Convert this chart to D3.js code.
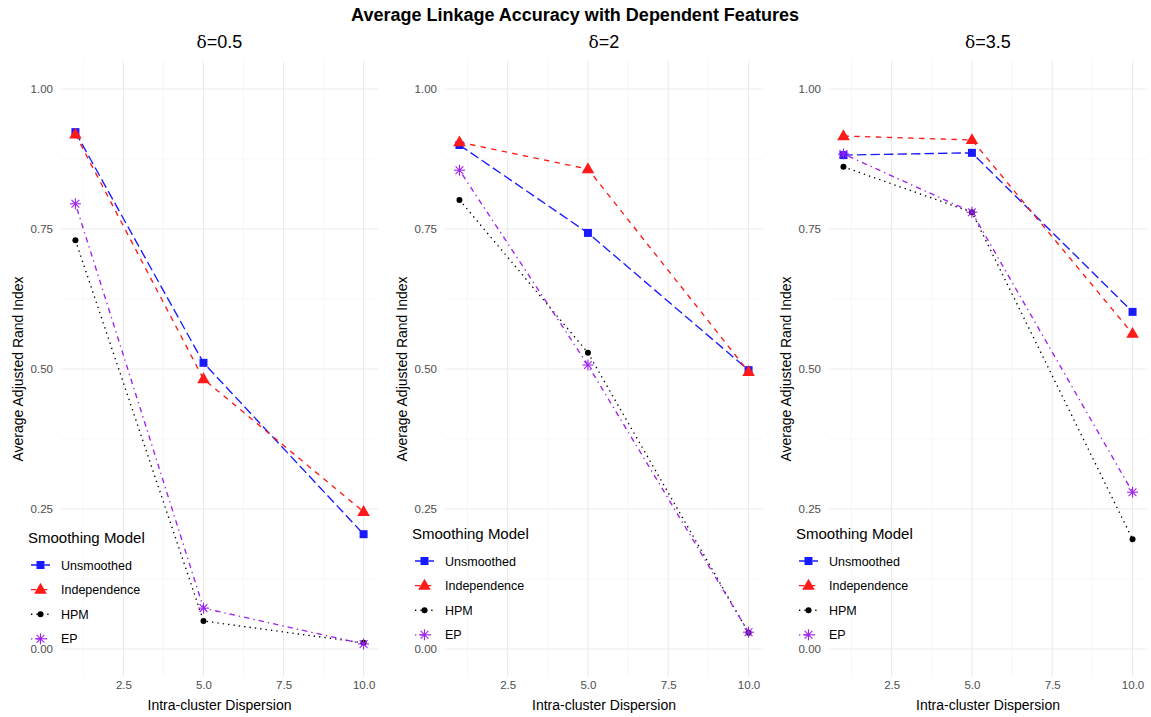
<!DOCTYPE html>
<html>
<head>
<meta charset="utf-8">
<script src="https://cdn.jsdelivr.net/npm/d3@7"></script>
<style>
  body { margin: 0; background: #fff; }
  text { font-family: "Liberation Sans", Arial, Helvetica, sans-serif; }
</style>
</head>
<body>
<div id="chart"></div>
<script>
// data
var dispersion = [1, 5, 10];
var deltas = ["0.5", "2", "3.5"];
var models = ["Unsmoothed", "Independence", "HPM", "EP"];

// one row per panel (delta), values at dispersion 1, 5, 10
var unsmoothed   = [[0.923, 0.511, 0.205], [0.900, 0.743, 0.498], [0.882, 0.886, 0.602]];
var independence = [[0.919, 0.482, 0.245], [0.905, 0.857, 0.495], [0.916, 0.909, 0.563]];
var hpm          = [[0.730, 0.050, 0.011], [0.802, 0.529, 0.029], [0.861, 0.780, 0.196]];
var ep           = [[0.795, 0.073, 0.009], [0.855, 0.507, 0.030], [0.884, 0.780, 0.280]];

var yTicks = [0, 0.25, 0.5, 0.75, 1];
var xTicks = [2.5, 5, 7.5, 10];

function init() {
    var width = 1151, height = 717;

    var colors = { Unsmoothed: "#1a1aff", Independence: "#ff1a1a", HPM: "#000000", EP: "#a020f0" };
    var lw = 1.35;
    var dashes = {
        Unsmoothed: [7 * lw, 3 * lw],
        Independence: [4 * lw, 4 * lw],
        HPM: [1 * lw, 3 * lw],
        EP: [1 * lw, 3 * lw, 4 * lw, 3 * lw]
    };
    var seriesByModel = { Unsmoothed: unsmoothed, Independence: independence, HPM: hpm, EP: ep };

    // panel plotting areas
    var panels = [
        { x0: 61, x1: 378, legendY: 543 },
        { x0: 445, x1: 763, legendY: 539 },
        { x0: 829, x1: 1147, legendY: 539 }
    ];
    var top = 61, bottom = 677;

    var svg = d3.select("#chart").append("svg")
        .attr("width", width)
        .attr("height", height);

    svg.append("text")
        .attr("x", 575).attr("y", 21)
        .attr("text-anchor", "middle")
        .style("font-weight", "bold")
        .style("font-size", "18px")
        .text("Average Linkage Accuracy with Dependent Features");

    var y = d3.scaleLinear().domain([-0.05, 1.05]).range([bottom, top]);

    function drawPoint(g, model, px, py) {
        var c = colors[model];
        if (model === "Unsmoothed") {
            g.append("path").attr("d", d3.symbol(d3.symbolSquare, 64)()).attr("transform", "translate(" + px + "," + py + ")").attr("fill", c);
        } else if (model === "Independence") {
            g.append("path").attr("d", d3.symbol(d3.symbolTriangle, 68)()).attr("transform", "translate(" + px + "," + (py + 0.5) + ")").attr("fill", c);
        } else if (model === "HPM") {
            g.append("circle").attr("cx", px).attr("cy", py).attr("r", 3).attr("fill", c);
        } else {
            var r = 5.5;
            for (var k = 0; k < 4; k++) {
                var a = k * Math.PI / 4;
                g.append("line")
                    .attr("x1", px - r * Math.cos(a)).attr("y1", py - r * Math.sin(a))
                    .attr("x2", px + r * Math.cos(a)).attr("y2", py + r * Math.sin(a))
                    .attr("stroke", c).attr("stroke-width", 1.1);
            }
        }
    }

    panels.forEach(function (p, i) {
        var x = d3.scaleLinear().domain([0.55, 10.45]).range([p.x0, p.x1]);
        var g = svg.append("g");

        // minor grid
        [0.125, 0.375, 0.625, 0.875].forEach(function (v) {
            g.append("line").attr("x1", p.x0).attr("x2", p.x1).attr("y1", y(v)).attr("y2", y(v))
                .attr("stroke", "#f2f2f2").attr("stroke-width", 0.6);
        });
        [1.25, 3.75, 6.25, 8.75].forEach(function (v) {
            g.append("line").attr("x1", x(v)).attr("x2", x(v)).attr("y1", top).attr("y2", bottom)
                .attr("stroke", "#f2f2f2").attr("stroke-width", 0.6);
        });
        // major grid
        yTicks.forEach(function (v) {
            g.append("line").attr("x1", p.x0).attr("x2", p.x1).attr("y1", y(v)).attr("y2", y(v))
                .attr("stroke", "#ebebeb").attr("stroke-width", 1.1);
        });
        xTicks.forEach(function (v) {
            g.append("line").attr("x1", x(v)).attr("x2", x(v)).attr("y1", top).attr("y2", bottom)
                .attr("stroke", "#ebebeb").attr("stroke-width", 1.1);
        });

        // axes via d3 axis, only labels kept
        var ya = g.append("g").attr("transform", "translate(" + (p.x0 - 3) + ",0)")
            .call(d3.axisLeft(y).tickValues(yTicks).tickFormat(d3.format(".2f")).tickSize(0).tickPadding(5));
        ya.select(".domain").remove();
        ya.selectAll("text").style("font-size", "11.5px").attr("fill", "#4d4d4d")
            .style("font-family", "Liberation Sans, Arial, sans-serif");

        var xa = g.append("g").attr("transform", "translate(0," + (bottom + 4) + ")")
            .call(d3.axisBottom(x).tickValues(xTicks).tickFormat(d3.format(".1f")).tickSize(0).tickPadding(0));
        xa.select(".domain").remove();
        xa.selectAll("text").style("font-size", "11.5px").attr("fill", "#4d4d4d")
            .style("font-family", "Liberation Sans, Arial, sans-serif");

        // titles
        var mid = (p.x0 + p.x1) / 2;
        var st = g.append("text").attr("x", mid).attr("y", 48).attr("text-anchor", "middle").style("font-size", "18px");
        st.append("tspan").style("font-family", "DejaVu Serif, serif").style("font-size", "17px").text("δ");
        st.append("tspan").text("=" + deltas[i]);

        g.append("text").attr("x", mid).attr("y", 710).attr("text-anchor", "middle")
            .style("font-size", "14px").text("Intra-cluster Dispersion");

        g.append("text")
            .attr("transform", "translate(" + (p.x0 - 38) + "," + ((top + bottom) / 2) + ") rotate(-90)")
            .attr("text-anchor", "middle").style("font-size", "14px")
            .text("Average Adjusted Rand Index");

        // series lines then points
        var line = d3.line().x(function (d) { return x(d[0]); }).y(function (d) { return y(d[1]); });
        models.forEach(function (m) {
            var vals = seriesByModel[m][i];
            var pts = dispersion.map(function (dv, j) { return [dv, vals[j]]; });
            g.append("path").datum(pts).attr("d", line)
                .attr("fill", "none").attr("stroke", colors[m])
                .attr("stroke-width", lw).attr("stroke-dasharray", dashes[m].join(","));
        });
        models.forEach(function (m) {
            var vals = seriesByModel[m][i];
            dispersion.forEach(function (dv, j) { drawPoint(g, m, x(dv), y(vals[j])); });
        });

        // legend inside panel
        var lx = p.x0 - 33;
        var lg = g.append("g");
        lg.append("text").attr("x", lx).attr("y", p.legendY).style("font-size", "15px").text("Smoothing Model");
        models.forEach(function (m, k) {
            var cy = p.legendY + 22 + k * 24.6;
            lg.append("line").attr("x1", lx + 3).attr("x2", lx + 22).attr("y1", cy).attr("y2", cy)
                .attr("stroke", colors[m]).attr("stroke-width", lw).attr("stroke-dasharray", dashes[m].join(","));
            drawPoint(lg, m, lx + 12.5, cy);
            lg.append("text").attr("x", lx + 33).attr("y", cy + 4.5).style("font-size", "12.5px").text(m);
        });
    });
}

window.onload = init;
</script>
</body>
</html>
